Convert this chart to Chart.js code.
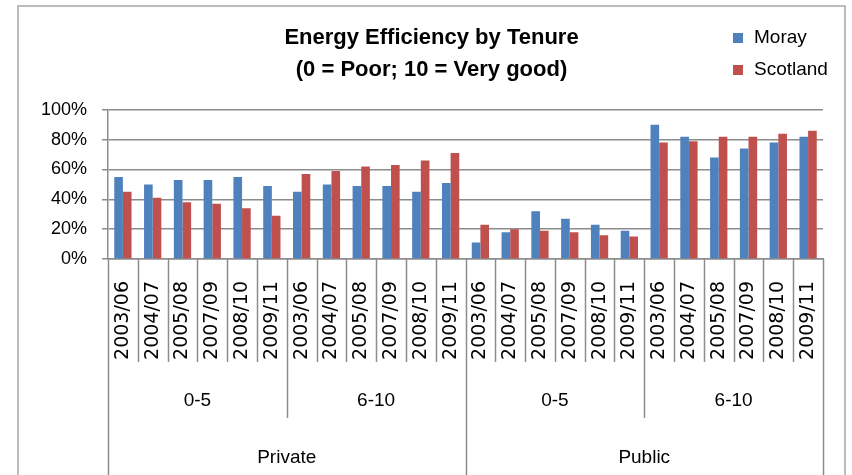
<!DOCTYPE html>
<html>
<head>
<meta charset="utf-8">
<title>Energy Efficiency by Tenure</title>
<script src="https://cdn.jsdelivr.net/npm/chart.js@4"></script>
<style>
    html, body { margin: 0; padding: 0; background: #fff; }
    #wrap { width: 852px; height: 475px; position: relative; }
</style>
</head>
<body>
<div id="wrap"><canvas id="tenureChart" width="852" height="475"></canvas></div>
<script>
const years = ['2003/06', '2004/07', '2005/08', '2007/09', '2008/10', '2009/11'];
const bands = ['0-5', '6-10'];
const tenures = ['Private', 'Public'];
const yTicks = [0, 20, 40, 60, 80, 100];

// % of dwellings, in order Private 0-5, Private 6-10, Public 0-5, Public 6-10
const moray = [
    55, 50, 53, 53, 55, 49,
    45, 50, 49, 49, 45, 51,
    11, 18, 32, 27, 23, 19,
    90, 82, 68, 74, 78, 82
];
const scotland = [
    45, 41, 38, 37, 34, 29,
    57, 59, 62, 63, 66, 71,
    23, 20, 19, 18, 16, 15,
    78, 79, 82, 82, 84, 86
];

const seriesNames = ['Moray', 'Scotland'];
const seriesColors = ['#4f81bd', '#c0504d'];

const labels = [];
tenures.forEach(() => bands.forEach(() => years.forEach(y => labels.push(y))));

const GRID = '#8c8c8c';
const LABEL_FONT = '"Liberation Sans", Arial, sans-serif';

// Rahmen, Legende und die Gruppenachse unter den Jahren
const tenurePlugin = {
    id: 'tenurePlugin',
    beforeDraw(chart) {
        const c = chart.ctx;
        c.save();
        c.strokeStyle = '#a6a6a6';
        c.lineWidth = 1.5;
        c.strokeRect(18, 6, 827, 480);
        c.restore();
    },
    afterDraw(chart) {
        const c = chart.ctx;
        const x = chart.scales.x;
        const area = chart.chartArea;
        const n = labels.length;
        const per = years.length;
        const edge = i => {
            if (i <= 0) return area.left;
            if (i >= n) return area.right;
            return (x.getPixelForTick(i - 1) + x.getPixelForTick(i)) / 2;
        };

        c.save();
        c.strokeStyle = GRID;
        c.lineWidth = 1.5;
        for (let i = 0; i <= n; i++) {
            let bottom = 362;
            if (i % per === 0) bottom = 418;
            if (i % (per * bands.length) === 0) bottom = 475;
            const px = Math.round(edge(i)) + 0.5;
            c.beginPath();
            c.moveTo(px, area.bottom);
            c.lineTo(px, bottom);
            c.stroke();
        }

        c.fillStyle = '#000';
        c.textAlign = 'center';
        c.textBaseline = 'middle';
        c.font = '19px ' + LABEL_FONT;
        tenures.forEach((t, ti) => {
            bands.forEach((b, bi) => {
                const g = ti * bands.length + bi;
                c.fillText(b, (edge(g * per) + edge((g + 1) * per)) / 2, 401);
            });
            const span = per * bands.length;
            c.fillText(t, (edge(ti * span) + edge((ti + 1) * span)) / 2, 458);
        });

        // Legende
        c.textAlign = 'left';
        c.font = '19px ' + LABEL_FONT;
        seriesNames.forEach((name, i) => {
            const y = 38 + i * 32;
            c.fillStyle = seriesColors[i];
            c.fillRect(733, y - 5, 10, 10);
            c.fillStyle = '#000';
            c.fillText(name, 754, y);
        });
        c.restore();
    }
};

const ctx = document.getElementById('tenureChart').getContext('2d');
new Chart(ctx, {
    type: 'bar',
    data: {
        labels: labels,
        datasets: seriesNames.map((name, i) => ({
            label: name,
            data: i === 0 ? moray : scotland,
            backgroundColor: seriesColors[i],
            borderWidth: 0,
            barPercentage: 1.0,
            categoryPercentage: 0.58
        }))
    },
    options: {
        responsive: false,
        animation: false,
        devicePixelRatio: 1,
        layout: {
            // title is centred between 40 and 823, i.e. inside the frame
            padding: { top: 0, left: 40, right: 29, bottom: 0 }
        },
        scales: {
            x: {
                type: 'category',
                afterFit: scale => { scale.height = 216; },
                grid: { display: false },
                border: { display: true, color: GRID, width: 1.5 },
                ticks: {
                    autoSkip: false,
                    minRotation: 90,
                    maxRotation: 90,
                    padding: 14,
                    color: '#000',
                    font: { family: '"DejaVu Sans", Verdana, sans-serif', size: 19 }
                }
            },
            y: {
                min: 0,
                max: 100,
                afterFit: scale => { scale.width = 68; },
                afterBuildTicks: scale => { scale.ticks = yTicks.map(v => ({ value: v })); },
                grid: { color: GRID, lineWidth: 1.5, tickLength: 6 },
                border: { display: true, color: GRID, width: 1.5 },
                ticks: {
                    padding: 15,
                    color: '#000',
                    font: { family: LABEL_FONT, size: 18 },
                    callback: v => v + '%'
                }
            }
        },
        plugins: {
            legend: { display: false },
            tooltip: { enabled: false },
            title: {
                display: true,
                text: ['Energy Efficiency by Tenure', '(0 = Poor; 10 = Very good)'],
                color: '#000',
                font: { family: LABEL_FONT, size: 22, weight: 'bold', lineHeight: 1.45 },
                padding: { top: 22, bottom: 24 }
            }
        }
    },
    plugins: [tenurePlugin]
});
</script>
</body>
</html>
